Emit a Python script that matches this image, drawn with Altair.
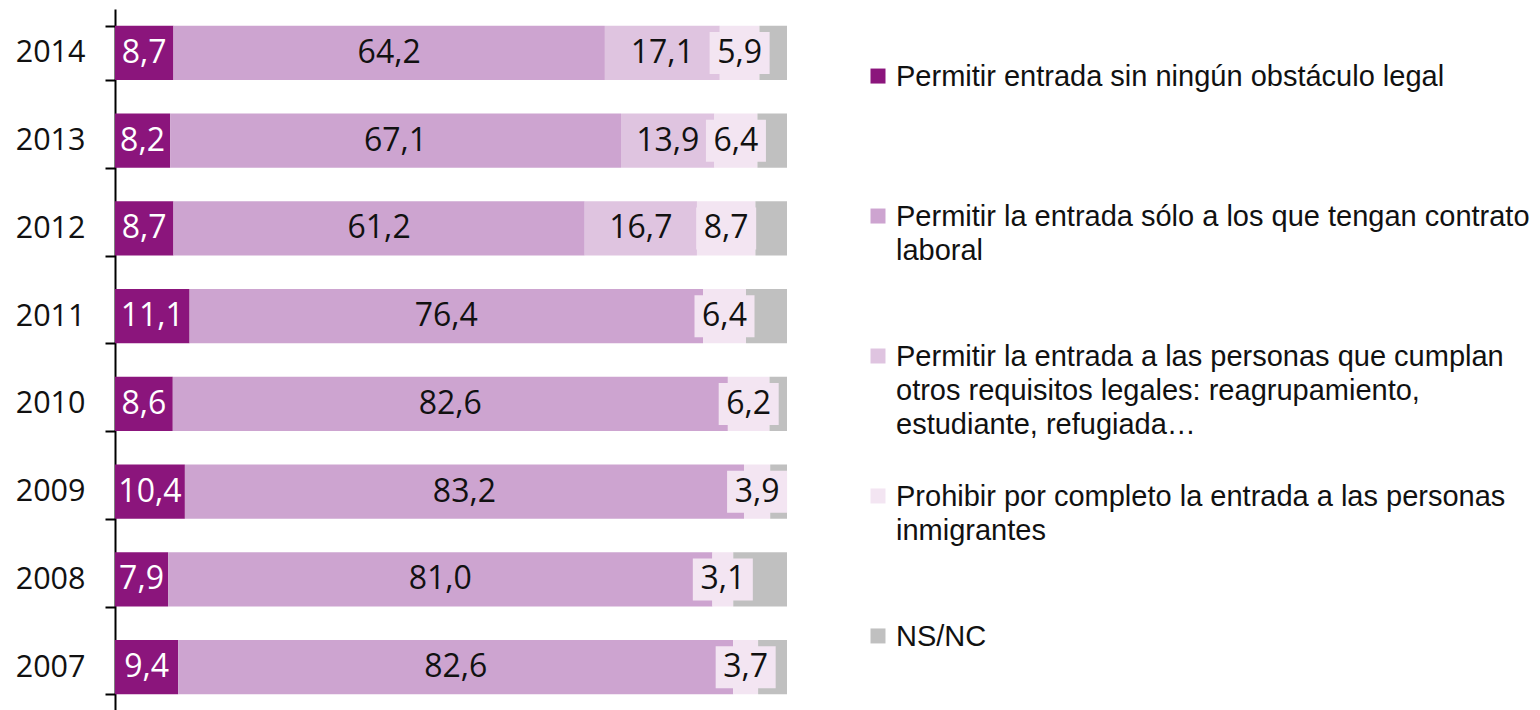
import altair as alt
import pandas as pd

years = ["2014", "2013", "2012", "2011", "2010", "2009", "2008", "2007"]
categories = [
    "Permitir entrada sin ningún obstáculo legal",
    "Permitir la entrada sólo a los que tengan contrato laboral",
    "Permitir la entrada a las personas que cumplan otros requisitos legales: reagrupamiento, estudiante, refugiada…",
    "Prohibir por completo la entrada a las personas inmigrantes",
    "NS/NC",
]
legend_lines = [
    "Permitir entrada sin ningún obstáculo legal",
    "Permitir la entrada sólo a los que tengan contrato\nlaboral",
    "Permitir la entrada a las personas que cumplan\notros requisitos legales: reagrupamiento,\nestudiante, refugiada…",
    "Prohibir por completo la entrada a las personas\ninmigrantes",
    "NS/NC",
]
colors = ["#8B157C", "#CDA4D0", "#DFC4E0", "#F3E5F2", "#C0C0C0"]
text_colors = ["#FFFFFF", "#111111", "#111111", "#111111", "#111111"]

sin_obstaculo = [8.7, 8.2, 8.7, 11.1, 8.6, 10.4, 7.9, 9.4]
contrato = [64.2, 67.1, 61.2, 76.4, 82.6, 83.2, 81.0, 82.6]
otros = [17.1, 13.9, 16.7, 0.0, 0.0, 0.0, 0.0, 0.0]
prohibir = [5.9, 6.4, 8.7, 6.4, 6.2, 3.9, 3.1, 3.7]
nsnc = [4.1, 4.4, 4.7, 6.1, 2.6, 2.5, 8.0, 4.3]
series = [sin_obstaculo, contrato, otros, prohibir, nsnc]
labelled = [True, True, True, True, False]

rows = []
for ci, (cat, vals) in enumerate(zip(categories, series)):
    for y, v in zip(years, vals):
        rows.append({"year": y, "cat": cat, "order": ci, "value": v,
                     "show": labelled[ci] and v > 0, "tcolor": text_colors[ci]})
df = pd.DataFrame(rows)

color_scale = alt.Scale(domain=categories, range=colors)
y_enc = alt.Y(
    "year:N", sort=years, title=None,
    scale=alt.Scale(paddingInner=0.38, paddingOuter=0.19),
    axis=alt.Axis(labelFont="Open Sans", labelFontSize=30.5, labelColor="#111111",
                  domainColor="#000000", domainWidth=2, tickColor="#000000",
                  tickWidth=2, tickSize=10, labelPadding=20, tickBand="extent",
                  minExtent=107, grid=False),
)
x_scale = alt.Scale(domain=[0, 100], nice=False)

base = alt.Chart(df)
bars = base.mark_bar().encode(
    y=y_enc,
    x=alt.X("value:Q", stack="zero", scale=x_scale, axis=None),
    color=alt.Color("cat:N", scale=color_scale, legend=None),
    order=alt.Order("order:Q"),
)

stacked = base.transform_stack(
    stack="value", groupby=["year"], as_=["x0", "x1"],
    sort=[alt.SortField("order", order="ascending")],
).transform_calculate(
    mid="(datum.x0 + datum.x1) / 2",
    label="replace(format(datum.value, '.1f'), '.', ',')",
).transform_filter("datum.show")

boxes = stacked.transform_filter("datum.order == 3").mark_point(
    shape="M-1,-0.7L1,-0.7L1,0.7L-1,0.7Z", size=3600, filled=True,
    opacity=1, strokeWidth=0,
).encode(
    y=alt.Y("year:N", sort=years),
    x=alt.X("mid:Q", scale=x_scale),
    color=alt.Color("cat:N", scale=color_scale, legend=None),
)

labels = stacked.mark_text(font="Open Sans", fontSize=32, baseline="middle").encode(
    y=alt.Y("year:N", sort=years),
    x=alt.X("mid:Q", scale=x_scale),
    text="label:N",
    color=alt.Color("tcolor:N", scale=None),
)

main = alt.layer(bars, boxes, labels).properties(width=672, height=702)

leg_df = pd.DataFrame({"cat": categories, "text": legend_lines})
leg_y = alt.Y("cat:N", sort=categories, axis=None,
              scale=alt.Scale(type="point", padding=0.479))
squares = alt.Chart(leg_df).mark_square(size=225, opacity=1).encode(
    y=leg_y, x=alt.value(30),
    color=alt.Color("cat:N", scale=color_scale, legend=None),
)
leg_text = alt.Chart(leg_df).mark_text(
    align="left", baseline="alphabetic", dy=10, font="Liberation Sans",
    fontSize=29, lineBreak="\n", lineHeight=34, color="#111111",
).encode(y=leg_y, x=alt.value(48), text="text:N")
legend = alt.layer(squares, leg_text).properties(width=680, height=694)

chart = alt.hconcat(main, legend, spacing=60).properties(
    padding={"left": 0, "top": -14, "right": 0, "bottom": 0}
).configure_view(stroke=None)

chart.save("out.html", embed_options={"renderer": "svg", "actions": False})
